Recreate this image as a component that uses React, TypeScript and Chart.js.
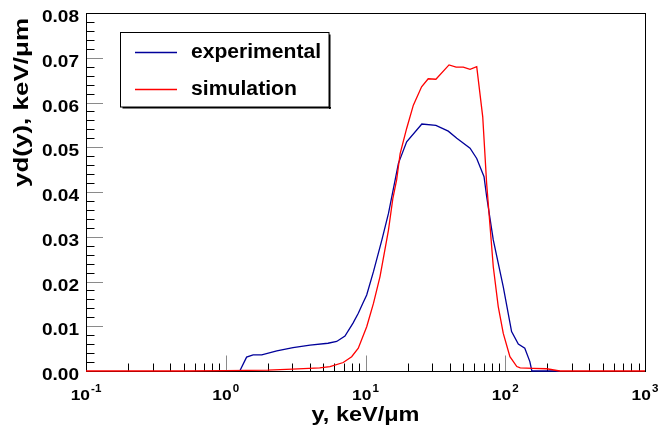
import React, { useEffect, useRef } from 'react';
import { Chart, registerables } from 'chart.js';

Chart.register(...registerables);

const FONT = '"Liberation Sans", Arial, Helvetica, sans-serif';

// experimental (blue)
const expX = [1.26, 1.41, 1.57, 1.81, 2.32, 3.03, 4.01, 5.39, 6.22, 7.13, 8.14, 8.88, 9.59, 10.2, 11.4, 13.1, 14.6, 16.3, 17.2, 19.7, 25.3, 31.9, 39.1, 45.0, 56.0, 62.5, 70.5, 73.6, 82.1, 96.8, 111, 124, 138, 150, 155, 245];
const expY = [0, 0.0031, 0.0036, 0.0036, 0.0045, 0.0052, 0.0058, 0.0062, 0.0066, 0.0078, 0.0107, 0.0129, 0.0152, 0.017, 0.0222, 0.0293, 0.0352, 0.0427, 0.0464, 0.0512, 0.0552, 0.0549, 0.0536, 0.052, 0.0498, 0.0475, 0.0434, 0.039, 0.0293, 0.0188, 0.0088, 0.006, 0.0051, 0.0021, 0, 0];

// simulation (red)
const simX = [0.1, 0.5, 1.0, 2.0, 3.0, 4.7, 5.57, 6.93, 7.96, 8.88, 10.2, 11.4, 12.7, 14.6, 15.7, 16.7, 17.7, 19.7, 22.0, 25.2, 28.1, 31.9, 39.6, 44.5, 50.1, 56.0, 62.5, 69.0, 73.6, 82.1, 89.1, 96.8, 108, 121, 128, 158, 198, 245, 1000];
const simY = [0, 0, 0.0001, 0.0002, 0.0004, 0.0007, 0.00096, 0.0019, 0.0032, 0.0051, 0.0099, 0.0151, 0.0211, 0.0315, 0.0386, 0.0427, 0.0486, 0.0542, 0.0594, 0.0635, 0.0653, 0.0652, 0.0684, 0.0679, 0.0679, 0.0674, 0.068, 0.0568, 0.0419, 0.0233, 0.0144, 0.0084, 0.0032, 0.001, 0.0007, 0.0006, 0.0005, 0, 0];

const seriesNames = ['experimental', 'simulation'];
const seriesColors = ['#00009a', '#ff0000'];

const xDecadeExponents = [-1, 0, 1, 2, 3];
const xMinorMultipliers = [2, 3, 4, 5, 6, 7, 8, 9];
const yTickValues = [0, 0.01, 0.02, 0.03, 0.04, 0.05, 0.06, 0.07, 0.08];
const yMinorStep = 0.002;

const xTitle = 'y, keV/μm';
const yTitle = 'yd(y), keV/μm';

function drawStretched(
  ctx: CanvasRenderingContext2D,
  text: string,
  x: number,
  y: number,
  font: string,
  sx: number,
  align: 'left' | 'right' | 'center'
) {
  ctx.save();
  ctx.font = font;
  ctx.textAlign = 'left';
  ctx.textBaseline = 'alphabetic';
  const w = ctx.measureText(text).width * sx;
  const left = align === 'right' ? x - w : align === 'center' ? x - w / 2 : x;
  ctx.translate(left, y);
  ctx.scale(sx, 1);
  ctx.fillText(text, 0, 0);
  ctx.restore();
  return w;
}

function fitScale(ctx: CanvasRenderingContext2D, text: string, font: string, target: number) {
  ctx.save();
  ctx.font = font;
  const w = ctx.measureText(text).width;
  ctx.restore();
  return target / w;
}

const rootPlugin = {
  id: 'rootStyle',
  beforeDatasetsDraw(chart: any) {
    const { ctx, chartArea: a, scales } = chart;
    const xs = scales.x;
    const ys = scales.y;
    ctx.save();
    ctx.lineWidth = 1;
    // x minor ticks
    ctx.strokeStyle = '#000';
    ctx.beginPath();
    for (let i = 0; i < xDecadeExponents.length - 1; i++) {
      const d = Math.pow(10, xDecadeExponents[i]);
      for (const m of xMinorMultipliers) {
        const px = Math.round(xs.getPixelForValue(d * m)) + 0.5;
        ctx.moveTo(px, a.bottom);
        ctx.lineTo(px, a.bottom - 7.5);
      }
    }
    // y minor ticks
    for (let k = 1; k * yMinorStep < 0.08 - 1e-9; k++) {
      if (k % 5 === 0) continue;
      const py = Math.round(ys.getPixelForValue(k * yMinorStep)) + 0.5;
      ctx.moveTo(a.left, py);
      ctx.lineTo(a.left + 8.5, py);
    }
    ctx.stroke();
    // major ticks
    ctx.strokeStyle = '#8a8a8a';
    ctx.beginPath();
    for (let i = 1; i < xDecadeExponents.length - 1; i++) {
      const px = Math.round(xs.getPixelForValue(Math.pow(10, xDecadeExponents[i]))) + 0.5;
      ctx.moveTo(px, a.bottom);
      ctx.lineTo(px, a.bottom - 15.5);
    }
    for (let i = 1; i < yTickValues.length - 1; i++) {
      const py = Math.round(ys.getPixelForValue(yTickValues[i])) + 0.5;
      ctx.moveTo(a.left, py);
      ctx.lineTo(a.left + 17, py);
    }
    ctx.stroke();
    // frame
    ctx.strokeStyle = '#000';
    ctx.strokeRect(a.left + 0.5, a.top + 0.5, a.right - a.left, a.bottom - a.top);
    ctx.restore();
  },
  afterDraw(chart: any) {
    const { ctx, chartArea: a, scales } = chart;
    const xs = scales.x;
    const ys = scales.y;
    ctx.save();
    ctx.fillStyle = '#000';
    // y tick labels
    const yFont = `bold 16px ${FONT}`;
    for (const v of yTickValues) {
      const py = ys.getPixelForValue(v);
      drawStretched(ctx, v.toFixed(2), 79, py + 9, yFont, 1.19, 'right');
    }
    // x tick labels 10^n
    const baseFont = `bold 15px ${FONT}`;
    const supFont = `bold 10px ${FONT}`;
    for (const e of xDecadeExponents) {
      const px = xs.getPixelForValue(Math.pow(10, e));
      ctx.font = baseFont;
      const wb = ctx.measureText('10').width * 1.16;
      ctx.font = supFont;
      const sup = e < 0 ? '-' + Math.abs(e) : String(e);
      const wsup = ctx.measureText(sup).width * 1.16;
      const left = px - (wb + wsup + 1) / 2;
      drawStretched(ctx, '10', left, a.bottom + 29, baseFont, 1.16, 'left');
      drawStretched(ctx, sup, left + wb + 1, a.bottom + 20.5, supFont, 1.16, 'left');
    }
    // x title
    const tFont = `bold 20px ${FONT}`;
    const sxT = fitScale(ctx, xTitle, tFont, 108);
    drawStretched(ctx, xTitle, (a.left + a.right) / 2, 421, tFont, sxT, 'center');
    // y title
    const syT = fitScale(ctx, yTitle, tFont, 169);
    ctx.save();
    ctx.translate(27.5, 187);
    ctx.rotate(-Math.PI / 2);
    drawStretched(ctx, yTitle, 0, 0, tFont, syT, 'left');
    ctx.restore();

    // legend box
    const bx = 120.5, by = 32.5, bw = 208.5, bh = 74.5;
    ctx.fillStyle = '#fff';
    ctx.fillRect(bx, by, bw, bh);
    ctx.fillStyle = '#000';
    ctx.fillRect(bx + 2, by + bh, bw, 1.5);
    ctx.fillRect(bx + bw, by + 2, 1.5, bh);
    ctx.strokeStyle = '#000';
    ctx.lineWidth = 1;
    ctx.strokeRect(bx, by, bw, bh);
    const rowsY = [52.5, 89.5];
    const baseY = [58, 95];
    const targets = [130, 106];
    const lFont = `bold 20px ${FONT}`;
    seriesNames.forEach((name, i) => {
      ctx.strokeStyle = seriesColors[i];
      ctx.lineWidth = 1.3;
      ctx.beginPath();
      ctx.moveTo(135, rowsY[i]);
      ctx.lineTo(177, rowsY[i]);
      ctx.stroke();
      ctx.fillStyle = '#000';
      const s = fitScale(ctx, name, lFont, targets[i]);
      drawStretched(ctx, name, 191, baseY[i], lFont, s, 'left');
    });
    ctx.restore();
  },
};

export default function App() {
  const ref = useRef<HTMLCanvasElement | null>(null);
  useEffect(() => {
    document.body.style.margin = '0';
    const canvas = ref.current;
    if (!canvas) return;
    const chart = new Chart(canvas, {
      type: 'line',
      data: {
        datasets: [
          {
            label: seriesNames[0],
            data: expX.map((x, i) => ({ x, y: expY[i] })),
            borderColor: seriesColors[0],
            borderWidth: 1.3,
            pointRadius: 0,
            tension: 0,
            fill: false,
            order: 1,
            clip: 4,
          },
          {
            label: seriesNames[1],
            data: simX.map((x, i) => ({ x, y: simY[i] })),
            borderColor: seriesColors[1],
            borderWidth: 1.3,
            pointRadius: 0,
            tension: 0,
            fill: false,
            order: 0,
            clip: 4,
          },
        ],
      },
      options: {
        animation: false,
        responsive: false,
        devicePixelRatio: 1,
        layout: { padding: { left: 86, top: 13, right: 16, bottom: 57 } },
        scales: {
          x: { type: 'logarithmic', min: 0.1, max: 1000, display: false },
          y: { type: 'linear', min: 0, max: 0.08, display: false },
        },
        plugins: { legend: { display: false }, tooltip: { enabled: false } },
        events: [],
      },
      plugins: [rootPlugin],
    } as any);
    return () => chart.destroy();
  }, []);
  return (
    <canvas
      ref={ref}
      width={661}
      height={428}
      style={{ display: 'block', width: 661, height: 428, background: '#fff' }}
    />
  );
}
